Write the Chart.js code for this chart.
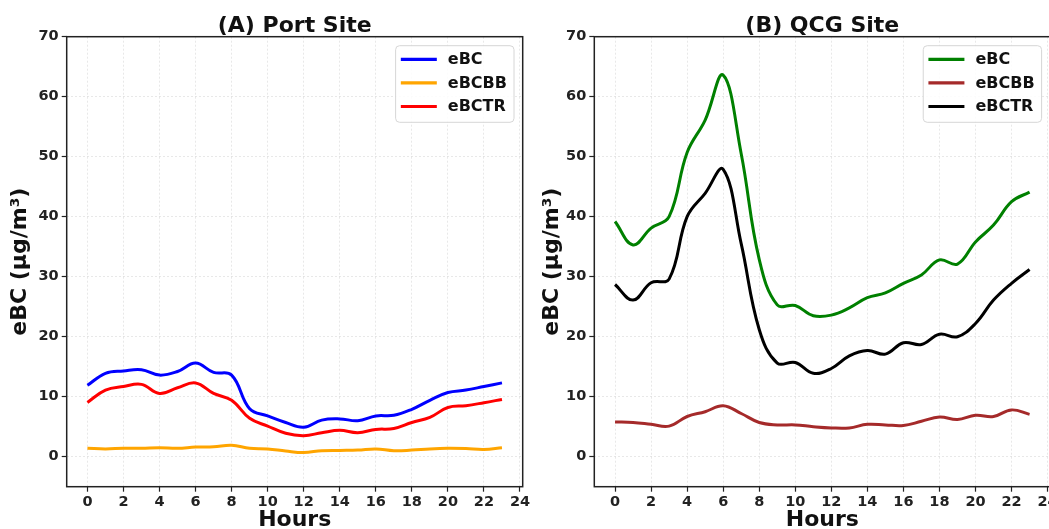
<!DOCTYPE html>
<html><head><meta charset="utf-8">
<script src="https://cdn.jsdelivr.net/npm/chart.js@4.4.1/dist/chart.umd.min.js"></script>
<style>
html,body{margin:0;padding:0;background:#fff;overflow:hidden;width:1049px;height:529px;}
.panel{position:absolute;top:0;height:529px;width:530px;}
#p1{left:0;}
#p2{left:530px;}
</style></head><body>
<div class="panel" id="p1"><canvas id="c1"></canvas></div>
<div class="panel" id="p2"><canvas id="c2"></canvas></div>
<script>
const hours = [0,1,2,3,4,5,6,7,8,9,10,11,12,13,14,15,16,17,18,19,20,21,22,23];
const xTicks = [0,2,4,6,8,10,12,14,16,18,20,22,24];
const yTicks = [0,10,20,30,40,50,60,70];
const seriesLabels = ['eBC','eBCBB','eBCTR'];

const portEBC   = [11.9,13.9,14.3,14.5,13.6,14.2,15.6,14.05,13.6,8.0,6.8,5.7,4.9,6.1,6.3,6.0,6.8,6.9,7.9,9.4,10.7,11.1,11.7,12.3];
const portEBCBB = [1.4,1.3,1.4,1.4,1.5,1.4,1.6,1.65,1.9,1.4,1.3,0.95,0.7,1.0,1.05,1.1,1.3,1.0,1.1,1.3,1.4,1.35,1.2,1.5];
const portEBCTR = [9.05,11.1,11.7,12.05,10.55,11.5,12.3,10.55,9.4,6.4,5.1,3.9,3.5,4.0,4.4,4.0,4.55,4.7,5.7,6.55,8.2,8.5,9.0,9.55];

const qcgEBC   = [39.2,35.3,38.1,40.0,50.7,56.1,63.6,50.5,32.9,25.3,25.2,23.5,23.6,24.8,26.5,27.3,28.9,30.3,32.8,32.1,35.8,38.6,42.5,44.1];
const qcgEBCBB = [5.8,5.7,5.4,5.1,6.7,7.5,8.5,7.2,5.7,5.3,5.3,5.0,4.8,4.8,5.4,5.3,5.2,5.9,6.6,6.2,6.9,6.7,7.8,7.05];
const qcgEBCTR = [28.7,26.1,29.0,29.6,40.0,43.9,47.9,35.5,21.2,15.6,15.7,13.9,14.7,16.8,17.7,17.1,19.0,18.7,20.4,20.0,22.2,26.1,28.9,31.2];

const portColors = ['#0000ff','#ffa500','#ff0000'];
const qcgColors  = ['#008000','#a52a2a','#000000'];

const FONT = '"DejaVu Sans", sans-serif';

const framePlugin = {
  id: 'frameLegend',
  afterDraw(chart) {
    const ctx = chart.ctx, a = chart.chartArea;
    ctx.save();
    ctx.strokeStyle = '#222';
    ctx.lineWidth = 1.5;
    ctx.strokeRect(a.left, a.top, a.right - a.left, a.bottom - a.top);
    // legend
    ctx.font = 'bold 16px ' + FONT;
    const ds = chart.data.datasets;
    const maxW = Math.max(...ds.map(d => ctx.measureText(d.label).width));
    const w = 5.2 + 36 + 11 + maxW + 7;
    const h = 76.6;
    const right = a.right - 8.7, top = a.top + 9;
    const left = right - w;
    ctx.beginPath();
    ctx.roundRect(left, top, w, h, 4);
    ctx.fillStyle = 'rgba(255,255,255,0.85)';
    ctx.fill();
    ctx.strokeStyle = '#d6d6d6';
    ctx.lineWidth = 1;
    ctx.stroke();
    ds.forEach((d, i) => {
      const y = top + 13.6 + i * 23.6;
      ctx.beginPath();
      ctx.moveTo(left + 5.2, y);
      ctx.lineTo(left + 41.2, y);
      ctx.strokeStyle = d.borderColor;
      ctx.lineWidth = 3.2;
      ctx.stroke();
      ctx.fillStyle = '#111';
      ctx.textBaseline = 'middle';
      ctx.textAlign = 'left';
      ctx.fillText(d.label, left + 52.2, y + 0.5);
    });
    ctx.restore();
  }
};

function makeChart(id, title, series, colors, yAxisWidth, padRight, yTitlePad) {
  const datasets = series.map((s, i) => ({
    label: seriesLabels[i],
    data: hours.map((hh, j) => ({x: hh, y: s[j]})),
    borderColor: colors[i],
    backgroundColor: colors[i],
    borderWidth: 3,
    pointRadius: 0,
    tension: 0.4,
    fill: false
  }));
  const gridOpts = {color: 'rgba(0,0,0,0.09)', lineWidth: 1, tickColor: '#222', tickWidth: 1.2, tickLength: 5, tickBorderDash: []};
  return new Chart(document.getElementById(id), {
    type: 'line',
    data: {datasets},
    plugins: [framePlugin],
    options: {
      responsive: true,
      maintainAspectRatio: false,
      animation: false,
      devicePixelRatio: 1,
      layout: {padding: {left: 0, right: padRight, top: 0, bottom: 0}},
      plugins: {
        legend: {display: false},
        tooltip: {enabled: false},
        title: {
          display: true, text: title, fullSize: false, color: '#111',
          font: {family: FONT, weight: 'bold', size: 22, lineHeight: 1.0},
          padding: {top: 15, bottom: -0.3}
        }
      },
      scales: {
        x: {
          type: 'linear', min: -1.15, max: 24.15,
          afterBuildTicks: sc => { sc.ticks = xTicks.map(v => ({value: v})); },
          afterFit: sc => { sc.height = 42.3; sc.paddingLeft = 0; sc.paddingRight = 0; },
          ticks: {color: '#222', font: {family: FONT, weight: 'bold', size: 14.5}, padding: 2, maxRotation: 0,
                  callback: v => String(v)},
          grid: gridOpts,
          border: {display: false, dash: [2, 2]},
          title: {display: true, text: 'Hours', color: '#111',
                  font: {family: FONT, weight: 'bold', size: 22, lineHeight: 1.2},
                  padding: {top: 0, bottom: -4.2}}
        },
        y: {
          min: -5, max: 70,
          afterBuildTicks: sc => { sc.ticks = yTicks.map(v => ({value: v})); },
          afterFit: sc => { sc.width = yAxisWidth; sc.paddingTop = 0; sc.paddingBottom = 0; },
          ticks: {color: '#222', font: {family: FONT, weight: 'bold', size: 14.5}, padding: 3,
                  callback: v => String(v)},
          grid: gridOpts,
          border: {display: false, dash: [2, 2]},
          title: {display: true, text: 'eBC (μg/m³)', color: '#111',
                  font: {family: FONT, weight: 'bold', size: 22, lineHeight: 1.2},
                  padding: {top: yTitlePad, bottom: 0}}
        }
      }
    }
  });
}

makeChart('c1', '(A) Port Site', [portEBC, portEBCBB, portEBCTR], portColors, 66.7, 7.3, 6.8);
makeChart('c2', '(B) QCG Site', [qcgEBC, qcgEBCBB, qcgEBCTR], qcgColors, 64.3, 9.7, 9.4);
</script>
</body></html>
